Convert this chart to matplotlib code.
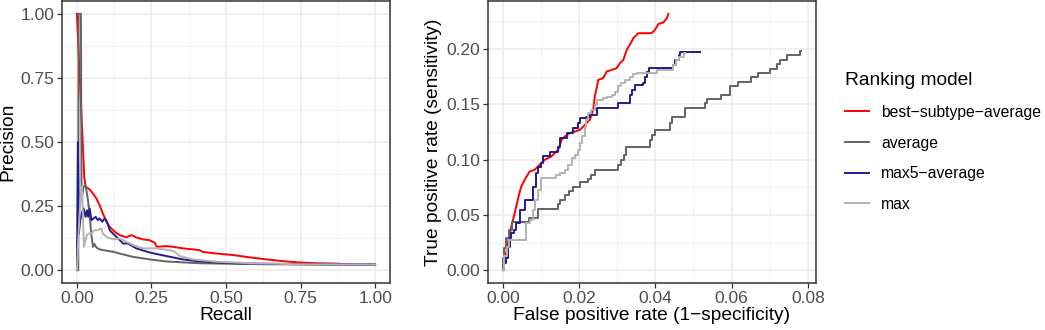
import numpy as np
import matplotlib
matplotlib.use("Agg")
import matplotlib.pyplot as plt
from matplotlib.ticker import MultipleLocator

plt.rcParams['font.family'] = ['Liberation Sans', 'DejaVu Sans']

models = ["best\u2212subtype\u2212average", "average", "max5\u2212average", "max"]
colors = ["#FF0000", "#636363", "#221C8C", "#B3B3B3"]

# precision-recall curves (recall, precision)
pr_recall = {
    "best": [0, 0.0246, 0.029, 0.0426, 0.054, 0.065, 0.076, 0.087, 0.099, 0.110, 0.127, 0.143,
             0.166, 0.183, 0.199, 0.222, 0.244, 0.261, 0.268, 0.300, 0.323, 0.356, 0.390, 0.412,
             0.423, 0.468, 0.524, 0.580, 0.636, 0.692, 0.748, 0.804, 0.860, 0.916, 1.0],
    "avg": [0.0045, 0.0056, 0.0134, 0.0157, 0.0224, 0.029, 0.037, 0.0426, 0.048, 0.054, 0.059,
            0.065, 0.076, 0.099, 0.121, 0.143, 0.188, 0.244, 0.300, 0.412, 0.524, 0.636, 0.860, 1.0],
    "max5": [0, 0.0034, 0.0067, 0.0112, 0.0157, 0.0224, 0.029, 0.0336, 0.038, 0.0426, 0.049,
             0.056, 0.063, 0.0705, 0.076, 0.085, 0.093, 0.101, 0.110, 0.121, 0.138, 0.155, 0.171,
             0.199, 0.244, 0.300, 0.356, 0.412, 0.524, 0.636, 0.860, 1.0],
    "max": [0, 0.0045, 0.009, 0.0134, 0.0168, 0.020, 0.0235, 0.029, 0.0336, 0.040, 0.048, 0.059,
            0.0705, 0.082, 0.087, 0.099, 0.121, 0.143, 0.166, 0.188, 0.222, 0.266, 0.311, 0.328,
            0.345, 0.390, 0.468, 0.580, 0.748, 1.0],
}
pr_precision = {
    "best": [1.0, 0.365, 0.326, 0.315, 0.299, 0.280, 0.254, 0.221, 0.189, 0.169, 0.150, 0.137,
             0.128, 0.137, 0.128, 0.120, 0.117, 0.107, 0.091, 0.094, 0.091, 0.085, 0.081, 0.078,
             0.071, 0.065, 0.059, 0.050, 0.042, 0.035, 0.030, 0.027, 0.026, 0.023, 0.022],
    "avg": [0, 1.0, 1.0, 0.273, 0.326, 0.332, 0.273, 0.221, 0.143, 0.091, 0.102, 0.089, 0.081,
            0.076, 0.072, 0.065, 0.052, 0.042, 0.034, 0.027, 0.025, 0.023, 0.022, 0.022],
    "max5": [0, 0.5, 0.143, 0.195, 0.221, 0.241, 0.208, 0.234, 0.208, 0.241, 0.195, 0.202, 0.208,
             0.195, 0.202, 0.189, 0.202, 0.189, 0.156, 0.143, 0.124, 0.104, 0.104, 0.085, 0.069,
             0.055, 0.042, 0.034, 0.027, 0.025, 0.022, 0.022],
    "max": [0, 0.117, 0.221, 0.30, 0.326, 0.221, 0.091, 0.117, 0.137, 0.143, 0.143, 0.156, 0.156,
            0.163, 0.143, 0.130, 0.120, 0.124, 0.111, 0.098, 0.085, 0.085, 0.078, 0.072, 0.055,
            0.042, 0.033, 0.027, 0.023, 0.022],
}

# ROC curves (fpr, tpr)
roc_fpr = {
    "best": [0, 0.0004, 0.0013, 0.0022, 0.0031, 0.0039, 0.0048, 0.0057, 0.0070, 0.0083, 0.0096,
             0.0110, 0.0127, 0.0145, 0.0154, 0.0162, 0.0175, 0.0189, 0.0202, 0.0211, 0.0219,
             0.0228, 0.0237, 0.0241, 0.0246, 0.0250, 0.0263, 0.0272, 0.0285, 0.0298, 0.0307,
             0.0316, 0.0325, 0.0338, 0.0342, 0.0351, 0.0355, 0.0390, 0.0399, 0.0408, 0.0421,
             0.0430, 0.0434],
    "avg": [0, 0.0001, 0.0004, 0.0009, 0.0016, 0.0025, 0.0068, 0.0092, 0.0145, 0.0151, 0.0162,
            0.0174, 0.0184, 0.0202, 0.0224, 0.0232, 0.0241, 0.0303, 0.0309, 0.0318, 0.0323,
            0.0386, 0.0390, 0.0399, 0.0439, 0.0443, 0.0478, 0.0531, 0.0535, 0.0572, 0.0595,
            0.0618, 0.0651, 0.0668, 0.0702, 0.0718, 0.0726, 0.0744, 0.0779, 0.0781],
    "max5": [0, 0.0003, 0.0007, 0.0013, 0.0018, 0.0022, 0.0028, 0.0035, 0.0044, 0.0057, 0.0079,
             0.0088, 0.0092, 0.0101, 0.0105, 0.0123, 0.0145, 0.0149, 0.0167, 0.0184, 0.0197,
             0.0202, 0.0219, 0.0228, 0.0246, 0.0303, 0.0333, 0.0338, 0.0346, 0.0368, 0.0373,
             0.0377, 0.0382, 0.0408, 0.0447, 0.0452, 0.0461, 0.0465, 0.0518],
    "max": [0, 0.0003, 0.0011, 0.0016, 0.0061, 0.0070, 0.0079, 0.0083, 0.0092, 0.0101, 0.0140,
            0.0149, 0.0162, 0.0171, 0.0180, 0.0189, 0.0197, 0.0202, 0.0208, 0.0215, 0.0219,
            0.0224, 0.0232, 0.0241, 0.0246, 0.0263, 0.0272, 0.0285, 0.0294, 0.0303, 0.0311,
            0.0320, 0.0333, 0.0342, 0.0351, 0.0404, 0.0447, 0.0454, 0.0461, 0.0474, 0.0478],
}
roc_tpr = {
    "best": [0, 0.0063, 0.0244, 0.0395, 0.0515, 0.0636, 0.0756, 0.0817, 0.0892, 0.0907, 0.0952,
             0.0998, 0.1028, 0.1088, 0.1178, 0.1209, 0.1239, 0.1254, 0.1269, 0.1299, 0.1329,
             0.1359, 0.1450, 0.1570, 0.1646, 0.1721, 0.1736, 0.1796, 0.1811, 0.1826, 0.1872,
             0.1902, 0.1992, 0.2068, 0.2098, 0.2128, 0.2143, 0.2143, 0.2173, 0.2227, 0.2239,
             0.2278, 0.2318],
    "avg": [0, 0.0109, 0.0199, 0.0289, 0.0365, 0.0434, 0.0470, 0.0552, 0.0600, 0.0636, 0.0681,
            0.0717, 0.0756, 0.0793, 0.0823, 0.0862, 0.0907, 0.0952, 0.0998, 0.1040, 0.1118,
            0.1178, 0.1224, 0.1269, 0.1329, 0.1389, 0.1465, 0.1510, 0.1546, 0.1585, 0.1661,
            0.1700, 0.1745, 0.1787, 0.1820, 0.1866, 0.1902, 0.1944, 0.1983, 0.1983],
    "max5": [0, 0.0063, 0.0109, 0.0214, 0.0289, 0.0335, 0.0365, 0.0431, 0.0546, 0.0636, 0.0756,
             0.0877, 0.0937, 0.0967, 0.1028, 0.1073, 0.1118, 0.1194, 0.1239, 0.1284, 0.1329,
             0.1374, 0.1389, 0.1404, 0.1465, 0.1510, 0.1585, 0.1631, 0.1676, 0.1691, 0.1751,
             0.1796, 0.1826, 0.1826, 0.1857, 0.1902, 0.1947, 0.1977, 0.1977],
    "max": [0, 0.0124, 0.0214, 0.0274, 0.0425, 0.0455, 0.0546, 0.0636, 0.0726, 0.0832, 0.0862,
            0.0877, 0.0907, 0.0952, 0.1013, 0.1043, 0.1088, 0.1148, 0.1209, 0.1299, 0.1359,
            0.1420, 0.1450, 0.1495, 0.1540, 0.1555, 0.1570, 0.1585, 0.1615, 0.1661, 0.1691,
            0.1721, 0.1751, 0.1775, 0.1787, 0.1811, 0.1857, 0.1902, 0.1932, 0.1968, 0.1968],
}
keys = ["best", "avg", "max5", "max"]

TICK_COL = "#4D4D4D"
BORDER = "#333333"
GRID = "#EBEBEB"
LW = 1.4


def style_axes(ax):
    for s in ax.spines.values():
        s.set_color(BORDER)
        s.set_linewidth(1.1)
    ax.grid(which='major', color=GRID, linewidth=1.1, zorder=0)
    ax.grid(which='minor', color=GRID, linewidth=0.55, zorder=0)
    ax.set_axisbelow(True)
    ax.tick_params(which='major', length=3.5, width=0.9, color=BORDER,
                   labelsize=12.5, labelcolor=TICK_COL, pad=2)
    ax.tick_params(which='minor', length=0)


fig = plt.figure(figsize=(10.45, 3.3), dpi=100)
ax1 = fig.add_axes([62 / 1045, 47 / 330, 328 / 1045, 282 / 330])
ax2 = fig.add_axes([488 / 1045, 47 / 330, 327.5 / 1045, 282 / 330])

for k, name, c in zip(keys, models, colors):
    ax1.plot(pr_recall[k], pr_precision[k], color=c, linewidth=LW, label=name)
    if k == "best":
        ax2.plot(roc_fpr[k], roc_tpr[k], color=c, linewidth=LW)
    else:
        ax2.step(roc_fpr[k], roc_tpr[k], where='post', color=c, linewidth=LW)

ax1.set_xlim(-0.05, 1.05)
ax1.set_ylim(-0.05, 1.05)
ax1.xaxis.set_major_locator(MultipleLocator(0.25))
ax1.yaxis.set_major_locator(MultipleLocator(0.25))
ax1.xaxis.set_minor_locator(MultipleLocator(0.125))
ax1.yaxis.set_minor_locator(MultipleLocator(0.125))
ax1.xaxis.set_major_formatter(lambda v, p: f"{v:.2f}")
ax1.yaxis.set_major_formatter(lambda v, p: f"{v:.2f}")
ax1.set_xlabel("Recall", fontsize=13.8, labelpad=1)
ax1.set_ylabel("Precision", fontsize=13.8, labelpad=3)
style_axes(ax1)

xmax, ymax = 0.0781, 0.2318
ax2.set_xlim(-0.05 * xmax, 1.05 * xmax)
ax2.set_ylim(-0.05 * ymax, 1.05 * ymax)
ax2.xaxis.set_major_locator(MultipleLocator(0.02))
ax2.yaxis.set_major_locator(MultipleLocator(0.05))
ax2.xaxis.set_minor_locator(MultipleLocator(0.01))
ax2.yaxis.set_minor_locator(MultipleLocator(0.025))
ax2.xaxis.set_major_formatter(lambda v, p: f"{v:.2f}")
ax2.yaxis.set_major_formatter(lambda v, p: f"{v:.2f}")
ax2.set_xlabel("False positive rate (1\u2212specificity)", fontsize=13.8, labelpad=1)
ax2.set_ylabel("True positive rate (sensitivity)", fontsize=13.8, labelpad=3)
style_axes(ax2)

handles, labels = ax1.get_legend_handles_labels()
leg = fig.legend(handles, labels, title="Ranking model", loc='upper left',
                 bbox_to_anchor=(831 / 1045, 1 - 58 / 330), frameon=False,
                 fontsize=11.3, title_fontsize=13.8, alignment='left',
                 handlelength=1.5, handletextpad=0.8, labelspacing=1.0)

fig.savefig("out.png", dpi=100)
